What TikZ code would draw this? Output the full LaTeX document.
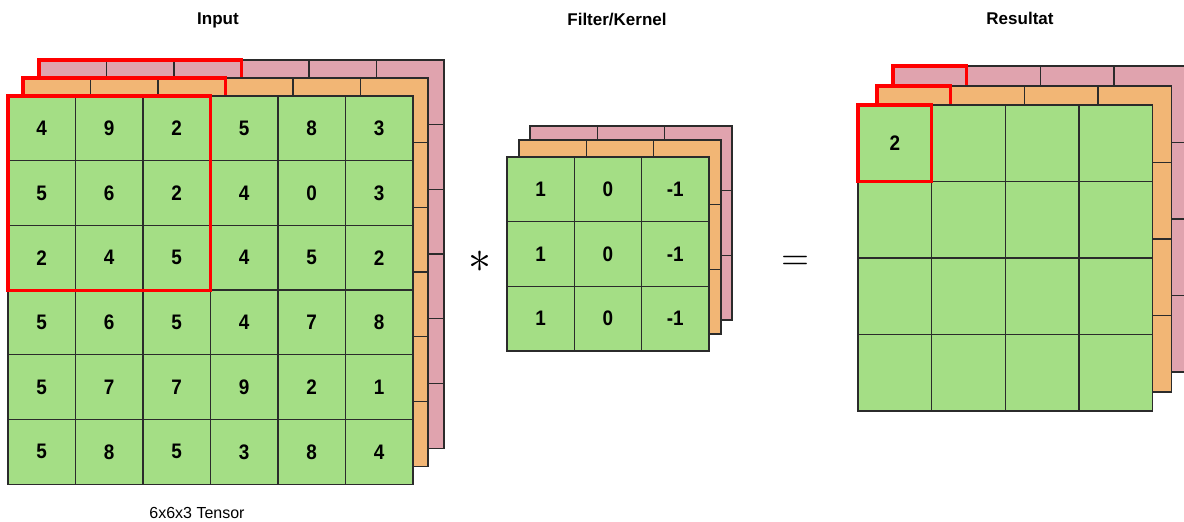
\documentclass[tikz,border=0pt]{standalone}
\usepackage{fontspec}
\setmainfont{Liberation Sans}
\newfontfamily\narrowsans[FakeStretch=0.9]{Liberation Sans}
\definecolor{cellgreen}{HTML}{A4DE85}
\definecolor{cellorange}{HTML}{F2B675}
\definecolor{cellpink}{HTML}{E0A3AE}
\definecolor{gridline}{HTML}{2B2B2B}
\tikzset{
  cell/.style={draw=gridline, line width=1.3pt, inner sep=0pt, outer sep=0pt},
  redbox/.style={draw=red, line width=3.2pt, line join=miter},
  num/.style={font=\narrowsans\fontsize{21}{24}\selectfont\bfseries, inner sep=0pt},
  title/.style={font=\fontsize{17}{20}\selectfont\bfseries, inner sep=0pt},
  caption/.style={font=\fontsize{16}{19}\selectfont, inner sep=0pt},
  oper/.style={inner sep=0pt},
}
% #1 name, #2 x0, #3 y0, #4 columns, #5 rows, #6 cell width, #7 cell height, #8 fill
\newcommand\celllayer[8]{%
  \foreach \r in {1,...,#5}{%
    \foreach \c in {1,...,#4}{%
      \node[cell, fill=#8, minimum width=#6pt, minimum height=#7pt]
        (#1-\r-\c) at ({#2+(\c-0.5)*#6},{#3+(\r-0.5)*#7}) {};
    }%
  }%
}
\begin{document}
\begin{tikzpicture}[x=1pt, y=-1pt]
\useasboundingbox (0,0) rectangle (1184,522);

% ---------- input tensor ----------
\celllayer{inP}{39}{60}{6}{6}{67.5}{64.7}{cellpink}
\draw[redbox] (inP-1-1.north west) rectangle (inP-3-3.south east);
\celllayer{inO}{23}{78}{6}{6}{67.5}{64.7}{cellorange}
\draw[redbox] (inO-1-1.north west) rectangle (inO-3-3.south east);
\celllayer{inG}{8}{96}{6}{6}{67.5}{64.7}{cellgreen}
\foreach \row [count=\r] in {{4,9,2,5,8,3},{5,6,2,4,0,3},{2,4,5,4,5,2},
                              {5,6,5,4,7,8},{5,7,7,9,2,1},{5,8,5,3,8,4}}{
  \foreach \v [count=\c] in \row {
    \node[num] (inT-\r-\c) at (inG-\r-\c) {\v};
  }
}
\draw[redbox] (inG-1-1.north west) rectangle (inG-3-3.south east);

% ---------- filter ----------
\celllayer{fP}{530}{126}{3}{3}{67.3}{64.7}{cellpink}
\celllayer{fO}{519}{140}{3}{3}{67.3}{64.7}{cellorange}
\celllayer{fG}{507}{157}{3}{3}{67.3}{64.7}{cellgreen}
\foreach \r in {1,2,3}{
  \node[num] (fT-\r-1) at (fG-\r-1) {1};
  \node[num] (fT-\r-2) at (fG-\r-2) {0};
  \node[num] (fT-\r-3) at (fG-\r-3) {-1};
}

% ---------- result ----------
\celllayer{rP}{893}{66}{4}{4}{73.7}{76.5}{cellpink}
\draw[redbox] (rP-1-1.north west) rectangle (rP-1-1.south east);
\celllayer{rO}{877}{86}{4}{4}{73.7}{76.5}{cellorange}
\draw[redbox] (rO-1-1.north west) rectangle (rO-1-1.south east);
\celllayer{rG}{858}{105}{4}{4}{73.7}{76.5}{cellgreen}
\node[num] (rT-1-1) at (rG-1-1) {2};
\draw[redbox] (rG-1-1.north west) rectangle (rG-1-1.south east);

% ---------- operators and labels ----------
\node[oper] (star) at (480,262) {\scalebox{4.6}{$\ast$}};
\node[oper] (equals) at (795,263) {\scalebox{3.6}{$=$}};
\node[title] (tIn) at (218,20) {Input};
\node[title] (tFilt) at (617,20) {Filter/Kernel};
\node[title] (tRes) at (1020,18) {Resultat};
\node[caption] (cap) at (197,513) {6x6x3 Tensor};
\end{tikzpicture}
\end{document}
